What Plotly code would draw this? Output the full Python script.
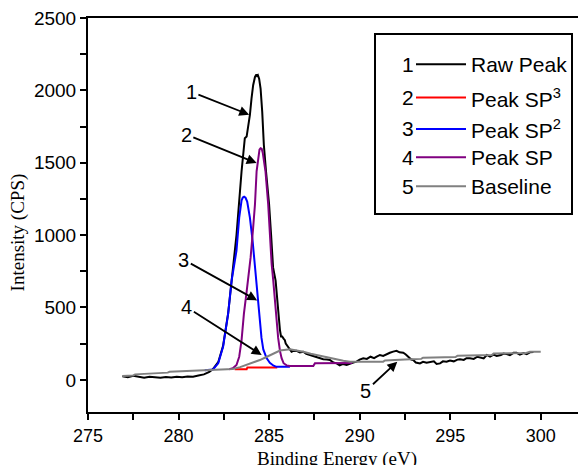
import plotly.graph_objects as go

# ---------------- data ----------------
raw_x = [276.9, 277.2, 277.5, 277.8, 278.1, 278.4, 278.7, 279.0, 279.3, 279.6, 279.9, 280.2, 280.5,
         280.8, 281.1, 281.4, 281.7, 281.9, 282.2, 282.46, 282.74, 282.93, 283.02, 283.2, 283.48,
         283.57, 283.62, 283.66, 283.76, 283.85, 283.94, 284.03, 284.12, 284.22, 284.3, 284.34,
         284.38, 284.45, 284.53, 284.62, 284.71, 284.83, 285.0, 285.12, 285.22, 285.36, 285.5,
         285.6, 285.66, 285.72, 285.8, 285.87, 285.92, 285.97, 286.05, 286.15, 286.24, 286.35,
         286.52, 286.7, 286.89, 287.05, 287.25, 287.45, 287.63, 287.8, 287.99, 288.2, 288.36,
         288.55, 288.73, 288.9, 289.09, 289.28, 289.46, 289.65, 289.83, 290.0, 290.2, 290.4,
         290.6, 290.8, 290.94, 291.12, 291.3, 291.5, 291.67, 291.85, 292.04, 292.2, 292.41,
         292.55, 292.69, 292.85, 292.96, 293.1, 293.33, 293.5, 293.7, 293.88, 294.1, 294.25,
         294.44, 294.6, 294.8, 294.99, 295.2, 295.4, 295.54, 295.75, 295.9, 296.09, 296.3, 296.5,
         296.65, 296.85, 297.02, 297.2, 297.4, 297.57, 297.8, 297.95, 298.12, 298.3, 298.5,
         298.67, 298.85, 299.05, 299.23, 299.4, 299.6]
raw_y = [25, 18, 28, 20, 15, 22, 17, 14, 20, 16, 22, 18, 24,
         22, 30, 38, 55, 75, 125, 235, 460, 686, 760, 1000, 1441,
         1578, 1600, 1670, 1681, 1750, 1830, 1944, 2036, 2093, 2110, 2100,
         2105, 2081, 2013, 1853, 1624, 1441, 1212, 983, 777, 686, 458,
         343, 300, 300, 285, 274, 250, 240, 225, 206, 194, 200,
         201, 190, 194, 180, 172, 160, 156, 150, 142, 140, 137,
         120, 114, 100, 110, 103, 114, 120, 126, 140, 149, 145,
         160, 150, 160, 172, 165, 180, 187, 195, 201, 190, 187,
         175, 160, 140, 137, 120, 114, 125, 118, 121, 128, 110,
         114, 128, 125, 133, 128, 140, 142, 138, 150, 149, 145, 160,
         156, 148, 172, 160, 175, 165, 172, 182, 178, 170, 187,
         187, 175, 185, 178, 190, 192]

sp3_x = [283.1, 283.76, 283.8, 285.45]
sp3_y = [73, 73, 86, 86]

sp2_x = [281.45, 281.9, 282.19, 282.46, 282.74, 282.93, 283.2, 283.35, 283.48, 283.55, 283.62,
         283.7, 283.79, 283.94, 284.09, 284.22, 284.31, 284.4, 284.49, 284.58, 284.68, 284.86,
         285.04, 285.25, 285.41, 286.15]
sp2_y = [66, 72, 114, 229, 458, 686, 892, 1121, 1240, 1260, 1265,
         1258, 1232, 1121, 961, 777, 686, 560, 400, 290, 210, 150,
         118, 98, 90, 90]

sp_x = [282.8, 283.0, 283.2, 283.35, 283.48, 283.61, 283.76, 283.85, 283.98, 284.12, 284.22,
        284.31, 284.4, 284.47, 284.53, 284.59, 284.65, 284.71, 284.8, 284.95, 285.04, 285.14,
        285.23, 285.32, 285.41, 285.5, 285.6, 285.69, 285.8, 285.97, 286.15, 287.44, 287.53, 289.6]
sp_y = [73, 80, 103, 160, 274, 458, 610, 700, 846, 1052, 1212,
        1441, 1550, 1590, 1600, 1597, 1570, 1510, 1441, 1212, 983, 801,
        686, 560, 400, 290, 200, 150, 115, 100, 96, 96, 114, 116]

base_x = [276.9, 277.5, 277.6, 279.4, 279.5, 281.3, 281.5, 282.6, 283.0, 283.4, 283.76, 284.1,
          284.49, 284.85, 285.04, 285.3, 285.6, 286.15, 286.5, 286.89, 287.3, 287.81, 288.3,
          288.73, 289.1, 289.47, 291.3, 291.4, 291.7, 292.5, 293.4, 293.5, 295.3, 295.4, 297.3,
          297.4, 299.2, 299.4, 300.0]
base_y = [27, 30, 38, 50, 56, 64, 68, 72, 75, 88, 103, 118,
          137, 158, 168, 185, 203, 211, 205, 194, 180, 165, 152,
          140, 132, 126, 126, 134, 137, 140, 145, 153, 158, 167, 172,
          183, 186, 194, 194]

series_names = ["Raw Peak", "Peak SP<sup>3</sup>", "Peak SP<sup>2</sup>", "Peak SP", "Baseline"]
series_nums = ["1", "2", "3", "4", "5"]
series_colors = ["#000000", "#FF0000", "#0000FF", "#800080", "#808080"]
series_x = [raw_x, sp3_x, sp2_x, sp_x, base_x]
series_y = [raw_y, sp3_y, sp2_y, sp_y, base_y]

x_ticks = [275, 280, 285, 290, 295, 300]
y_ticks = [0, 500, 1000, 1500, 2000, 2500]

# ---------------- figure ----------------
# the page has an 8px body margin, so the figure is 8px smaller than the window
OFF = 8
W, H = 578, 457
ML, MR, MT, MB = 80, 0, 8, 53
PW, PH = W - ML - MR, H - MT - MB


def px(xs):
    """screen x pixel -> paper coordinate"""
    return (xs - OFF - ML) / PW


def py(ys):
    """screen y pixel -> paper coordinate"""
    return (H - MB - (ys - OFF)) / PH


fig = go.Figure()
for i in range(5):
    fig.add_trace(go.Scatter(x=series_x[i], y=series_y[i], mode="lines",
                             line=dict(color=series_colors[i], width=2),
                             name=series_names[i], showlegend=False))

SANS = "Liberation Sans, Arial, sans-serif"
SERIF = "Liberation Serif, Times New Roman, serif"

annotations = []
# arrow callouts: (label, tail_x, tail_y, head_x, head_y) in data coordinates
callouts = [("1", 280.71, 1990, 283.9, 1832),
            ("2", 280.43, 1695, 284.31, 1498),
            ("3", 280.29, 830, 284.34, 549),
            ("4", 280.46, 501, 284.59, 172),
            ("5", 290.35, -75, 292.08, 126)]
for lab, tx, ty, hx, hy in callouts:
    annotations.append(dict(x=hx, y=hy, ax=tx, ay=ty, xref="x", yref="y", axref="x", ayref="y",
                            text=lab, showarrow=True, arrowhead=2, arrowsize=1.1, arrowwidth=1.8,
                            arrowcolor="black", font=dict(family=SANS, size=20, color="black")))

# legend (manual, styled like the original)
shapes = [dict(type="rect", xref="paper", yref="paper", x0=px(375), x1=px(572), y0=py(213), y1=py(32),
               line=dict(color="black", width=2), fillcolor="white", layer="above")]
row_y = [62.5, 96, 127.5, 156, 185]
for i in range(5):
    yy = py(row_y[i])
    shapes.append(dict(type="line", xref="paper", yref="paper", x0=px(416), x1=px(466), y0=yy, y1=yy,
                       line=dict(color=series_colors[i], width=2), layer="above"))
    annotations.append(dict(x=px(416), y=yy, xref="paper", yref="paper", text=series_nums[i],
                            showarrow=False, xanchor="right", yanchor="middle",
                            font=dict(family=SANS, size=21, color="black")))
    annotations.append(dict(x=px(469), y=yy, xref="paper", yref="paper", text=series_names[i],
                            showarrow=False, xanchor="left", yanchor="middle",
                            font=dict(family=SANS, size=21, color="black")))

# axis titles
annotations.append(dict(x=px(337), y=py(459), xref="paper", yref="paper", text="Binding Energy (eV)",
                        showarrow=False, xanchor="center", yanchor="middle",
                        font=dict(family=SERIF, size=19, color="black")))
annotations.append(dict(x=px(18), y=py(231.5), xref="paper", yref="paper", text="Intensity (CPS)",
                        showarrow=False, xanchor="center", yanchor="middle", textangle=-90,
                        font=dict(family=SERIF, size=19, color="black")))

fig.update_layout(
    width=W, height=H,
    margin=dict(l=ML, r=MR, t=MT, b=MB, pad=0),
    paper_bgcolor="white", plot_bgcolor="white",
    showlegend=False,
    annotations=annotations,
    shapes=shapes,
    xaxis=dict(range=[275, 302.5], tickvals=x_ticks, ticktext=[str(v) for v in x_ticks],
               ticks="outside", ticklen=6, tickwidth=1.5, tickcolor="black",
               minor=dict(dtick=2.5, tick0=275, ticks="outside", ticklen=6, tickwidth=1.5, tickcolor="black"),
               showline=True, linewidth=2, linecolor="black", mirror=True,
               showgrid=False, zeroline=False, ticklabeloverflow="allow",
               tickfont=dict(family=SANS, size=18, color="black")),
    yaxis=dict(range=[-222, 2500], tickvals=y_ticks, ticktext=[str(v) for v in y_ticks],
               ticks="outside", ticklen=6, tickwidth=1.5, tickcolor="black",
               minor=dict(dtick=250, tick0=0, ticks="outside", ticklen=6, tickwidth=1.5, tickcolor="black"),
               showline=True, linewidth=2, linecolor="black", mirror=False,
               showgrid=False, zeroline=False, ticklabeloverflow="allow",
               tickfont=dict(family=SANS, size=19, color="black")),
)

fig.write_html("out.html")
